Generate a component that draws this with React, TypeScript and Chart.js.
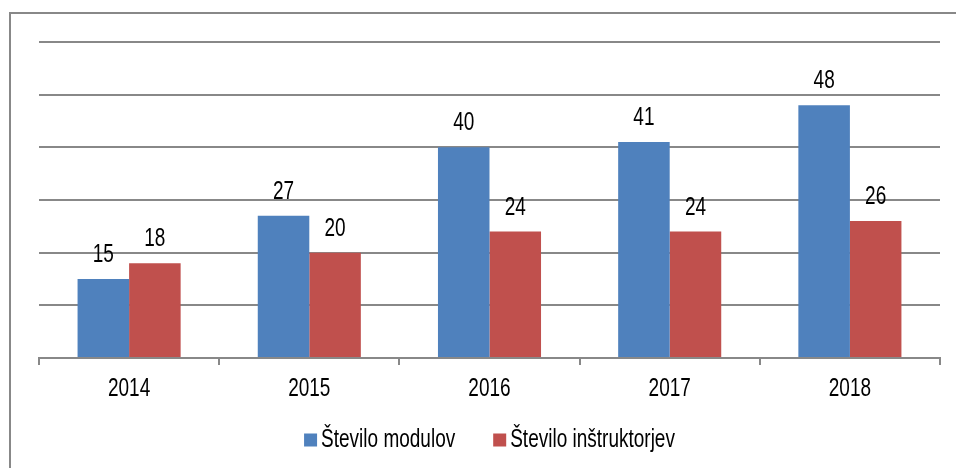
import React, { useEffect, useRef } from "react";
import { Chart, registerables } from "chart.js";

Chart.register(...registerables);

const categories = ["2014", "2015", "2016", "2017", "2018"];
const seriesNames = ["Število modulov", "Število inštruktorjev"];
const moduli = [15, 27, 40, 41, 48];
const instruktorji = [18, 20, 24, 24, 26];
const colors = ["#4F81BD", "#C0504D"];

const FONT = "'Liberation Sans', Arial, sans-serif";
const FS = 25;
const SX = 0.76; // horizontal condensing to mimic a narrow font

function drawNarrow(ctx: any, text: string, x: number, y: number, align: "left" | "center") {
  ctx.save();
  ctx.translate(x, y);
  ctx.scale(SX, 1);
  ctx.textAlign = align;
  ctx.fillText(text, 0, 0);
  ctx.restore();
}

const framePlugin = {
  id: "frame",
  beforeDraw(chart: any) {
    const ctx = chart.ctx;
    ctx.save();
    ctx.fillStyle = "#ffffff";
    ctx.fillRect(0, 0, chart.width, chart.height);
    ctx.strokeStyle = "#888888";
    ctx.lineWidth = 2;
    ctx.strokeRect(10, 13, chart.width + 20, chart.height + 20);
    ctx.restore();
  },
};

const textPlugin = {
  id: "texts",
  afterDraw(chart: any) {
    const ctx = chart.ctx;
    ctx.save();
    ctx.font = `${FS}px ${FONT}`;
    ctx.fillStyle = "#000000";
    ctx.textBaseline = "alphabetic";
    chart.data.datasets.forEach((ds: any, i: number) => {
      const meta = chart.getDatasetMeta(i);
      meta.data.forEach((bar: any, j: number) => {
        drawNarrow(ctx, String(ds.data[j]), bar.x, bar.y - 17, "center");
      });
    });
    const xs = chart.scales.x;
    chart.data.labels.forEach((lab: string, i: number) => {
      drawNarrow(ctx, lab, xs.getPixelForValue(i), 396, "center");
    });
    const box = 13;
    const gap = 4;
    const itemGap = 38;
    const items = chart.data.datasets.map((ds: any) => ({
      label: ds.label,
      color: ds.backgroundColor,
      w: box + gap + ctx.measureText(ds.label).width * SX,
    }));
    const total = items.reduce((a: number, it: any) => a + it.w, 0) + itemGap * (items.length - 1);
    const area = chart.chartArea;
    let x = (area.left + area.right) / 2 - total / 2;
    const y = 440;
    items.forEach((it: any) => {
      ctx.fillStyle = it.color;
      ctx.fillRect(x, y - box / 2, box, box);
      ctx.fillStyle = "#000000";
      drawNarrow(ctx, it.label, x + box + gap, 447, "left");
      x += it.w + itemGap;
    });
    ctx.restore();
  },
};

export default function App() {
  const ref = useRef<HTMLCanvasElement | null>(null);
  useEffect(() => {
    document.body.style.margin = "0";
    const chart = new Chart(ref.current as HTMLCanvasElement, {
      type: "bar",
      data: {
        labels: categories,
        datasets: [
          { label: seriesNames[0], data: moduli, backgroundColor: colors[0] },
          { label: seriesNames[1], data: instruktorji, backgroundColor: colors[1] },
        ],
      },
      options: {
        animation: false,
        responsive: false,
        devicePixelRatio: 1,
        layout: { padding: { left: 39, right: 16, top: 42, bottom: 0 } },
        datasets: { bar: { categoryPercentage: 0.572, barPercentage: 1 } },
        plugins: { legend: { display: false }, tooltip: { enabled: false } },
        scales: {
          x: {
            grid: {
              display: true,
              drawOnChartArea: false,
              drawTicks: true,
              tickLength: 7,
              color: "#888888",
              lineWidth: 2,
              offset: true,
            },
            border: { display: true, color: "#888888", width: 2 },
            ticks: {
              color: "rgba(0,0,0,0)",
              font: { family: FONT, size: FS },
              padding: 4,
            },
            afterFit: (s: any) => {
              s.height = 110;
            },
          },
          y: {
            min: 0,
            max: 60,
            ticks: { display: false, stepSize: 10 },
            grid: { color: "#888888", lineWidth: 2, drawTicks: false },
            border: { display: false },
            afterFit: (s: any) => {
              s.width = 0;
            },
          },
        },
      },
      plugins: [framePlugin, textPlugin],
    });
    return () => chart.destroy();
  }, []);
  return <canvas ref={ref} width={956} height={468} style={{ display: "block" }} />;
}
